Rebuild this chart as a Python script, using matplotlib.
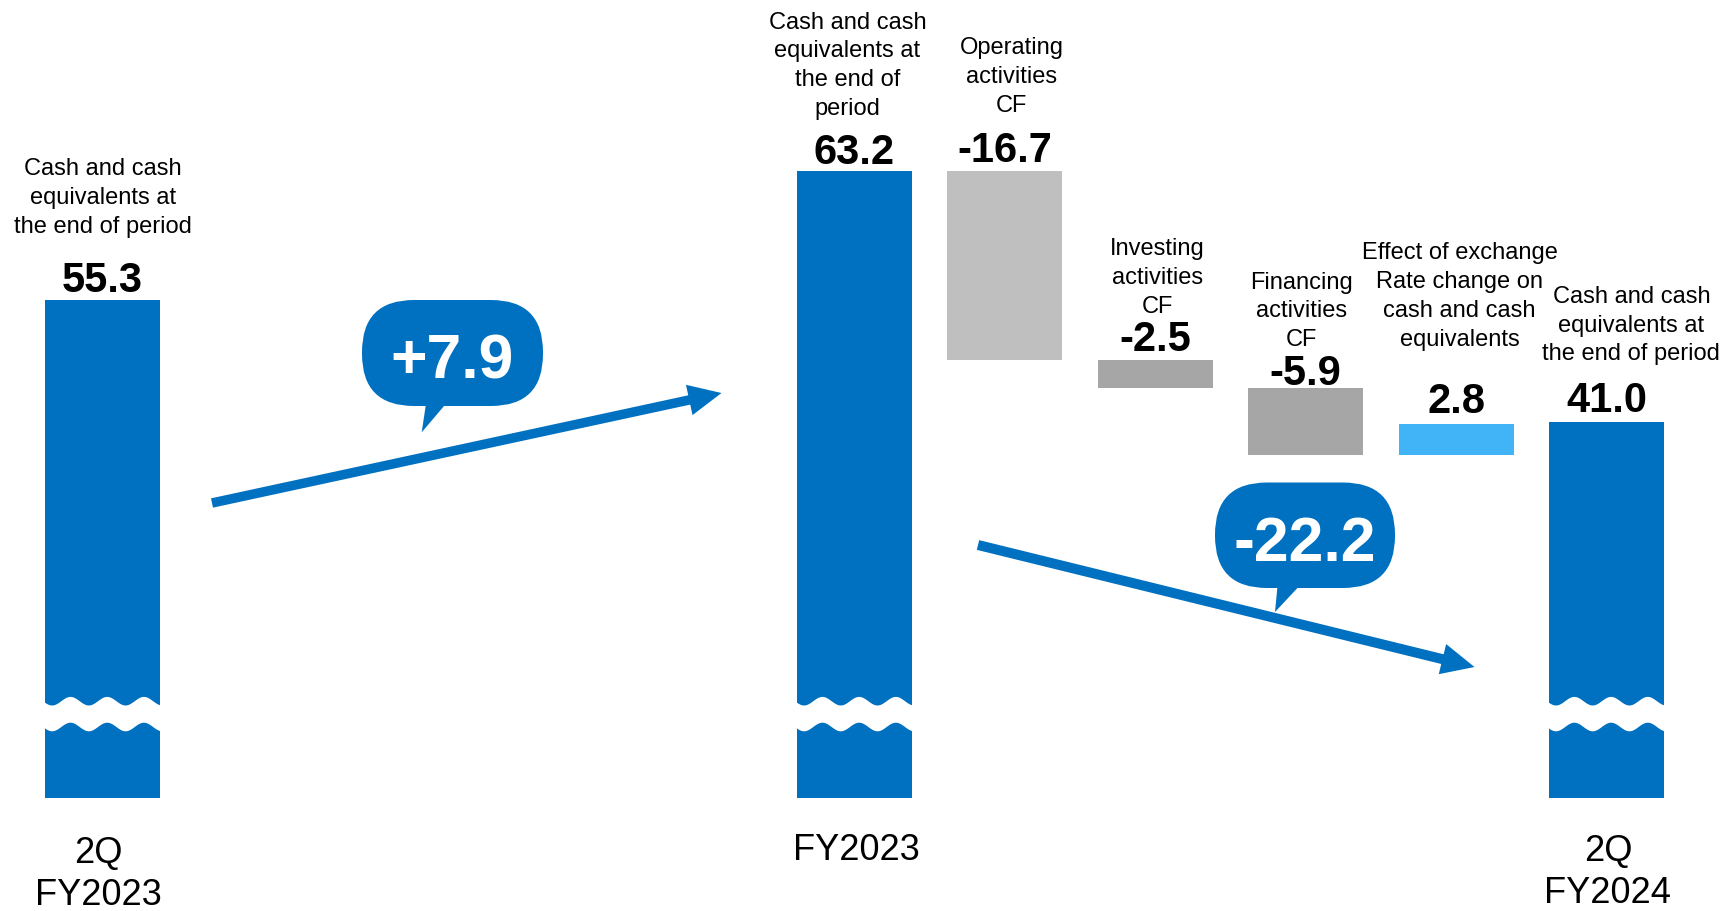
import matplotlib
matplotlib.use("Agg")
import matplotlib.pyplot as plt
import numpy as np
from matplotlib.patches import FancyBboxPatch, Polygon, FancyArrow
from matplotlib.transforms import blended_transform_factory

plt.rcParams['font.family'] = ['Liberation Sans', 'DejaVu Sans']

# ---------------- data ----------------
start_label = "Cash and cash\nequivalents at\nthe end of period"
start_value = 55.3
start_period = "2Q\nFY2023"

step_labels = [
    "Cash and cash\nequivalents at\nthe end of\nperiod",
    "Operating\nactivities\nCF",
    "Investing\nactivities\nCF",
    "Financing\nactivities\nCF",
    "Effect of exchange\nRate change on\ncash and cash\nequivalents",
    "Cash and cash\nequivalents at\nthe end of period",
]
step_values = [63.2, -16.7, -2.5, -5.9, 2.8, 41.0]
step_kinds = ["total", "delta", "delta", "delta", "delta", "total"]
step_periods = ["FY2023", "", "", "", "", "2Q\nFY2024"]

# ---------------- style ----------------
BLUE = "#0070C0"
step_colors = [BLUE, "#BFBFBF", "#A6A6A6", "#A6A6A6", "#41B4F8", BLUE]
BAR_W = 0.765
BASE = 7.9          # hidden part below the axis break
W, H = 1735, 912
VAL_FS = 30
LAB_FS = 17
LAB_LS = 1.4

fig = plt.figure(figsize=(W / 100, H / 100), dpi=100)

# axis for the first (separately scaled) bar
ax0 = fig.add_axes([0, 0, 1, 1], zorder=1)
ax0.set_xlim(-5.682, 5.855)
ax0.set_ylim(-12.548, 88.725)
ax0.axis("off")

# main waterfall axis
ax = fig.add_axes([0, 0, 1, 1], zorder=2)
ax.set_xlim(-5.682, 5.855)
ax.set_ylim(-2.04, 78.31)
ax.axis("off")

# overlay in pixel coordinates (arrows, callouts, breaks)
ov = fig.add_axes([0, 0, 1, 1], zorder=3)
ov.set_xlim(0, W)
ov.set_ylim(H, 0)
ov.axis("off")

PT = 0.72  # points per pixel at 100 dpi

# ---- start bar ----
x_start = -5
ax0.bar(x_start, start_value, bottom=0, width=BAR_W, color=BLUE, lw=0)
ax0.annotate(f"{start_value:.1f}", xy=(x_start, start_value), xytext=(0, 9.5 * PT),
             textcoords="offset points", ha="center", va="baseline",
             fontsize=VAL_FS, fontweight="bold")
ax0.annotate(start_label, xy=(x_start, start_value), xytext=(0, (68 - 5) * PT),
             textcoords="offset points", ha="center", va="bottom",
             fontsize=LAB_FS, linespacing=LAB_LS, multialignment="center")

# ---- waterfall ----
xs = np.arange(len(step_values))
bottoms, heights, tops = [], [], []
running = 0.0
for v, k in zip(step_values, step_kinds):
    if k == "total":
        bottoms.append(BASE)
        heights.append(v - BASE)
        tops.append(v)
        running = v
    else:
        bottoms.append(running)
        heights.append(v)
        tops.append(max(running, running + v))
        running = running + v
ax.bar(xs, heights, bottom=bottoms, width=BAR_W, color=step_colors, lw=0)

val_gap_px = [8, 10, 10, 4, 11.5, 11.5]
lab_gap_px = [56.5, 59.5, 48.3, 43.3, 79, 63]
lab_dx_px = [-7, 7, 2, -4, 3.5, 25]
for x, v, t, lab, vg, lg, dx in zip(xs, step_values, tops, step_labels,
                                   val_gap_px, lab_gap_px, lab_dx_px):
    ax.annotate(f"{v:.1f}", xy=(x, t), xytext=(0, vg * PT), textcoords="offset points",
                ha="center", va="baseline", fontsize=VAL_FS, fontweight="bold")
    ax.annotate(lab, xy=(x, t), xytext=(dx * PT, (lg - 5) * PT), textcoords="offset points",
                ha="center", va="bottom", fontsize=LAB_FS, linespacing=LAB_LS,
                multialignment="center")

# period labels
btf = blended_transform_factory(ax.transData, ov.transData)
ax.text(x_start - 0.027, 836, start_period, transform=btf, ha="center", va="top",
        fontsize=26, linespacing=1.27, multialignment="center")
for x, p, dy in zip(xs, step_periods, [833, 0, 0, 0, 0, 834]):
    if p:
        ax.text(x + 0.01, dy, p, transform=btf, ha="center", va="top",
                fontsize=26, linespacing=1.27, multialignment="center")

# ---- axis-break waves ----
def wave(xc):
    left = ax.transData.transform((xc - BAR_W / 2, 0))[0]
    right = ax.transData.transform((xc + BAR_W / 2, 0))[0]
    px = np.linspace(left - 2, right + 2, 300)
    c = np.cos(2 * np.pi * (px - left - 25) / 36.7)
    upper = 701.7 - 4.3 * c
    lower = 727.5 - 4.3 * c
    ov.fill_between(px, upper, lower, color="white", lw=0, zorder=2)

wave(x_start)
for x, k in zip(xs, step_kinds):
    if k == "total":
        wave(x)

# ---- change arrows & callouts ----
change_up = step_values[0] - start_value
change_down = step_values[-1] - step_values[0]

ov.add_patch(FancyArrow(212, 504, 721.5 - 212, 394 - 504, width=9.5, head_width=31,
                        head_length=33, length_includes_head=True, color=BLUE, lw=0, zorder=3))
ov.add_patch(FancyArrow(978, 546, 1474.5 - 978, 668 - 546, width=10, head_width=31,
                        head_length=33, length_includes_head=True, color=BLUE, lw=0, zorder=3))

def callout(x0, y0, w, h, tail, text, base_y):
    ov.add_patch(FancyBboxPatch((x0, y0), w, h, boxstyle="round,pad=0,rounding_size=52",
                                fc=BLUE, ec="none", zorder=4))
    ov.add_patch(Polygon(tail, closed=True, fc=BLUE, ec="none", zorder=4))
    ov.text(x0 + w / 2, base_y, text, ha="center", va="baseline", color="white",
            fontsize=45, fontweight="bold", zorder=5)

callout(362, 301, 181, 106, [(426.7, 400), (450, 400), (421.7, 433.3)],
        f"{change_up:+.1f}", 378.3)
callout(1215, 483.5, 180, 105.5, [(1278, 582), (1304, 582), (1275, 613)],
        f"{change_down:+.1f}", 560.7)

fig.savefig("out.png", dpi=100)
